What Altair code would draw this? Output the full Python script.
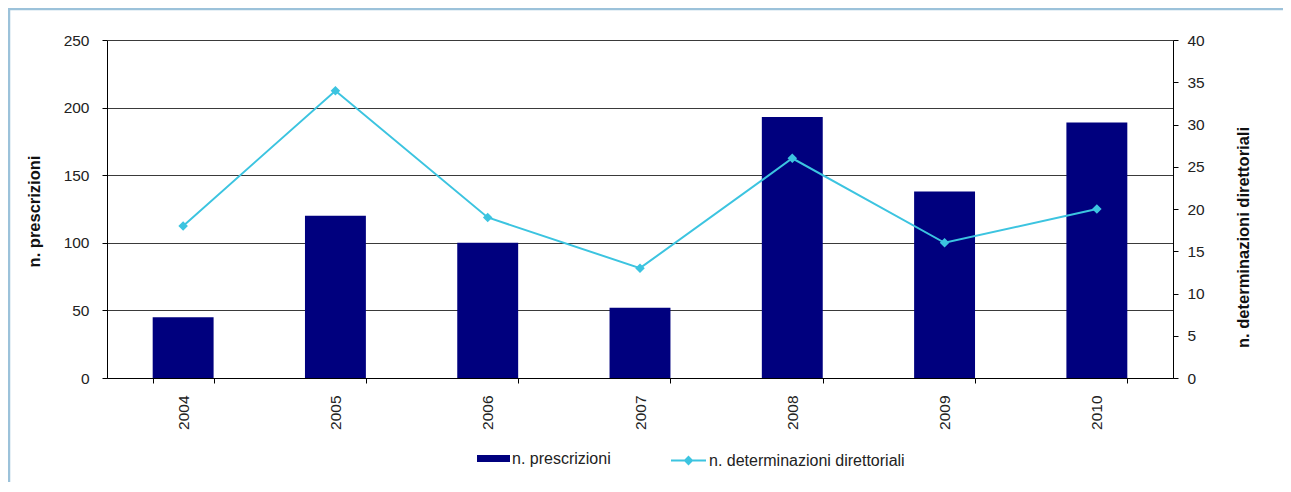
import altair as alt
import pandas as pd

anni = ['2004', '2005', '2006', '2007', '2008', '2009', '2010']
prescrizioni = [45, 120, 100, 52, 193, 138, 189]
determinazioni = [18, 34, 19, 13, 26, 16, 20]
left_ticks = [0, 50, 100, 150, 200, 250]
right_ticks = [0, 5, 10, 15, 20, 25, 30, 35, 40]
serie_barre = 'n. prescrizioni'
serie_linea = 'n. determinazioni direttoriali'

df = pd.DataFrame({'anno': anni, 'prescrizioni': prescrizioni,
                   'determinazioni': determinazioni})

FONT = 'Liberation Sans'
NAVY = '#00007E'
CYAN = '#3CC4E0'
W, H = 1066, 338

x_enc = alt.X('anno:O', sort=anni,
              scale=alt.Scale(paddingInner=0.6, paddingOuter=0.3),
              axis=alt.Axis(title=None, labelAngle=270, tickBand='extent',
                            tickSize=5, labelPadding=12, grid=False))

bars = alt.Chart(df).transform_calculate(serie="'" + serie_barre + "'").mark_bar(
    color=NAVY
).encode(
    x=x_enc,
    y=alt.Y('prescrizioni:Q',
            scale=alt.Scale(domain=[0, 250], nice=False),
            axis=alt.Axis(title='n. prescrizioni', values=left_ticks, grid=True,
                          gridColor='#3a3a3a', gridWidth=1, tickSize=5,
                          labelPadding=13, titleAngle=270, titleX=-73, titleY=171,
                          titleBaseline='middle', titleAlign='center')),
    fill=alt.Fill('serie:N',
                  scale=alt.Scale(domain=[serie_barre], range=[NAVY]),
                  legend=alt.Legend(title=None, orient='none', legendX=370, legendY=402,
                                    symbolType='M-1,-0.21H1V0.21H-1Z', symbolSize=1089,
                                    symbolStrokeWidth=0, labelOffset=2, padding=0,
                                    labelLimit=500,
                                    labelFontSize=16, labelFont=FONT, labelColor='#222'))
)

line = alt.Chart(df).transform_calculate(serie="'" + serie_linea + "'").mark_line(
    strokeWidth=2,
    point=alt.OverlayMarkDef(shape='diamond', size=45, filled=True, color=CYAN)
).encode(
    x=x_enc,
    y=alt.Y('determinazioni:Q',
            scale=alt.Scale(domain=[0, 40], nice=False),
            axis=alt.Axis(orient='right', title='n. determinazioni direttoriali',
                          values=right_ticks, grid=False, tickSize=5, labelPadding=9,
                          titleAngle=270, titleX=70, titleY=197,
                          titleBaseline='middle', titleAlign='center')),
    stroke=alt.Stroke('serie:N',
                      scale=alt.Scale(domain=[serie_linea], range=[CYAN]),
                      legend=alt.Legend(title=None, orient='none', legendX=563, legendY=402,
                                        symbolType='M-1,0H1M0,-0.2L0.2,0L0,0.2L-0.2,0Z',
                                        symbolSize=1225, symbolStrokeWidth=2,
                                        symbolFillColor=CYAN, labelOffset=2, padding=0,
                                        labelLimit=500,
                                        labelFontSize=16, labelFont=FONT, labelColor='#222'))
)

border_data = alt.Data(values=[{'k': 1}])
border_left = alt.Chart(border_data).mark_rule(color='#9CC2DA', strokeWidth=2.5).encode(
    x=alt.value(-98), y=alt.value(-32), y2=alt.value(480))
border_top = alt.Chart(border_data).mark_rule(color='#9CC2DA', strokeWidth=2.5).encode(
    x=alt.value(-99), x2=alt.value(1176), y=alt.value(-31))

chart = alt.layer(bars, line, border_left, border_top).resolve_scale(
    y='independent', fill='independent', stroke='independent'
).properties(
    width=W, height=H,
    autosize=alt.AutoSizeParams(type='none'),
    padding={'left': 99, 'top': 32, 'right': 110, 'bottom': 104},
    background='white'
).configure_view(stroke=None).configure_axis(
    labelFont=FONT, labelFontSize=15.5, labelColor='#222',
    titleFont=FONT, titleFontSize=16.5, titleFontWeight='bold', titleColor='#111',
    domainColor='#000', tickColor='#000', domainWidth=1, tickWidth=1
)

chart.save('out.html', embed_options={'renderer': 'svg', 'actions': False})
